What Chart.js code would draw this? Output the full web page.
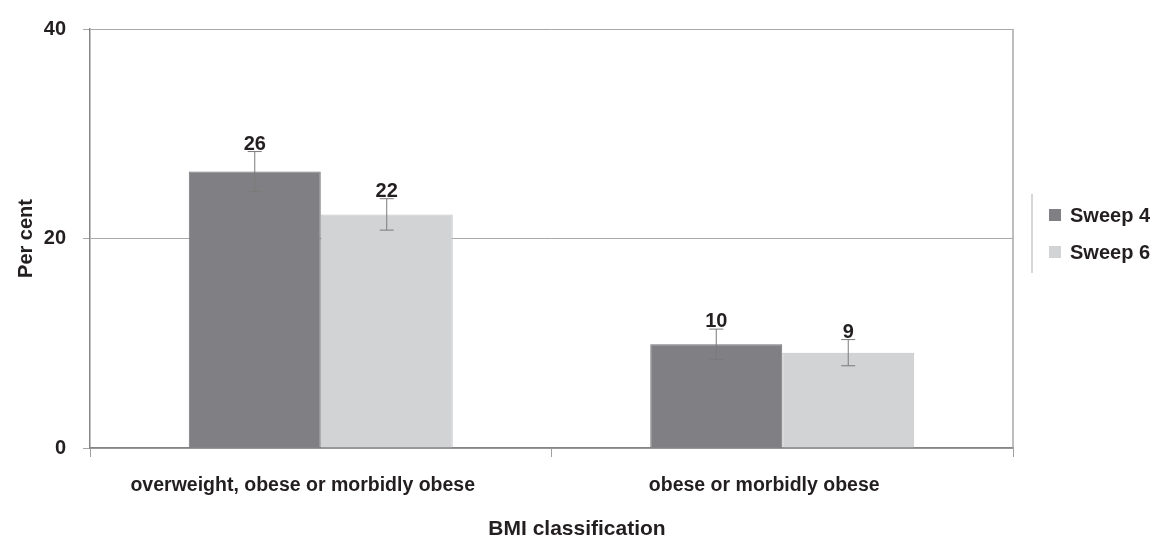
<!DOCTYPE html>
<html>
<head>
<meta charset="utf-8">
<script src="https://cdn.jsdelivr.net/npm/chart.js@4/dist/chart.umd.min.js"></script>
<style>
  body { margin: 0; background: #fff; }
  #wrap { width: 1156px; height: 540px; position: relative; }
</style>
</head>
<body>
<div id="wrap"><canvas id="myChart"></canvas></div>
<script>
const categories = ['overweight, obese or morbidly obese', 'obese or morbidly obese'];
const seriesNames = ['Sweep 4', 'Sweep 6'];
const sweep4 = [26.4, 9.9];
const sweep6 = [22.3, 9.1];
const sweep4Err = [1.9, 1.45];
const sweep6Err = [1.5, 1.25];
const yTicks = [0, 20, 40];
const xTitle = 'BMI classification';

const FONT = "'Liberation Sans', Arial, Helvetica, sans-serif";
const textColor = '#231f20';
const colors = ['#808084', '#d2d3d5'];
const errors = [sweep4Err, sweep6Err];

// error bars + value labels
const errorBars = {
    id: 'errorBars',
    afterDatasetsDraw(chart) {
        const ctx = chart.ctx;
        const y = chart.scales.y;
        ctx.save();
        chart.data.datasets.forEach(function(ds, i) {
            const meta = chart.getDatasetMeta(i);
            meta.data.forEach(function(bar, j) {
                const v = ds.data[j];
                const e = errors[i][j];
                const top = y.getPixelForValue(v + e);
                const bot = y.getPixelForValue(v - e);
                ctx.strokeStyle = '#7a7a7a';
                ctx.lineWidth = 1;
                ctx.beginPath();
                ctx.moveTo(bar.x, top); ctx.lineTo(bar.x, bot);
                ctx.moveTo(bar.x - 7, top); ctx.lineTo(bar.x + 7, top);
                ctx.moveTo(bar.x - 7, bot); ctx.lineTo(bar.x + 7, bot);
                ctx.stroke();
                ctx.fillStyle = textColor;
                ctx.font = 'bold 20px ' + FONT;
                ctx.textAlign = 'center';
                ctx.textBaseline = 'alphabetic';
                ctx.fillText(String(Math.round(v)), bar.x, top - 2);
            });
        });
        ctx.restore();
    }
};

// right frame line, x title and legend
const frameLegend = {
    id: 'frameLegend',
    afterDraw(chart) {
        const ctx = chart.ctx;
        const a = chart.chartArea;
        ctx.save();
        ctx.strokeStyle = '#a8a8a8';
        ctx.lineWidth = 1.5;
        ctx.beginPath();
        ctx.moveTo(a.right, a.top);
        ctx.lineTo(a.right, a.bottom);
        ctx.stroke();

        ctx.fillStyle = textColor;
        ctx.font = 'bold 21px ' + FONT;
        ctx.textAlign = 'center';
        ctx.textBaseline = 'middle';
        ctx.fillText(xTitle, 577, 529);

        ctx.strokeStyle = '#c8c8c8';
        ctx.lineWidth = 1.5;
        ctx.beginPath();
        ctx.moveTo(1032, 194);
        ctx.lineTo(1032, 273);
        ctx.stroke();

        ctx.font = 'bold 20px ' + FONT;
        ctx.textAlign = 'left';
        ctx.textBaseline = 'middle';
        chart.data.datasets.forEach(function(ds, i) {
            const cy = 215 + i * 37;
            ctx.fillStyle = ds.backgroundColor;
            ctx.fillRect(1049, cy - 6, 12, 12);
            ctx.fillStyle = textColor;
            ctx.fillText(ds.label, 1070, cy + 1);
        });
        ctx.restore();
    }
};

document.addEventListener('DOMContentLoaded', function() {
    const ctx = document.getElementById('myChart');

    new Chart(ctx, {
        type: 'bar',
        data: {
            labels: categories,
            datasets: [{
                label: seriesNames[0],
                data: sweep4,
                backgroundColor: colors[0],
                borderColor: '#737377',
                borderWidth: 1
            }, {
                label: seriesNames[1],
                data: sweep6,
                backgroundColor: colors[1],
                borderColor: '#c2c3c5',
                borderWidth: 1
            }]
        },
        plugins: [errorBars, frameLegend],
        options: {
            responsive: true,
            maintainAspectRatio: false,
            animation: false,
            layout: { padding: { top: 11, right: 143, left: 0, bottom: 0 } },
            datasets: {
                bar: { categoryPercentage: 0.572, barPercentage: 1.0 }
            },
            plugins: {
                legend: { display: false },
                tooltip: { enabled: false }
            },
            scales: {
                x: {
                    afterFit(scale) { scale.height = 92; },
                    grid: {
                        offset: true,
                        drawOnChartArea: false,
                        tickLength: 9,
                        color: '#a0a0a0'
                    },
                    border: { color: '#858585', width: 1.5 },
                    ticks: {
                        padding: 17,
                        labelOffset: -18,
                        color: textColor,
                        maxRotation: 0,
                        font: { family: FONT, size: 19.5, weight: 'bold' }
                    }
                },
                y: {
                    min: 0,
                    max: 40,
                    afterFit(scale) { scale.width = 90; },
                    afterBuildTicks(scale) {
                        scale.ticks = yTicks.map(function(v) { return { value: v }; });
                    },
                    grid: { color: '#a8a8a8', tickLength: 7 },
                    border: { color: '#858585', width: 1.5 },
                    ticks: {
                        padding: 17,
                        color: textColor,
                        font: { family: FONT, size: 20, weight: 'bold' }
                    },
                    title: {
                        display: true,
                        text: 'Per cent',
                        color: textColor,
                        font: { family: FONT, size: 20, weight: 'bold' },
                        padding: { top: 14, bottom: 0 }
                    }
                }
            }
        }
    });
});
</script>
</body>
</html>
